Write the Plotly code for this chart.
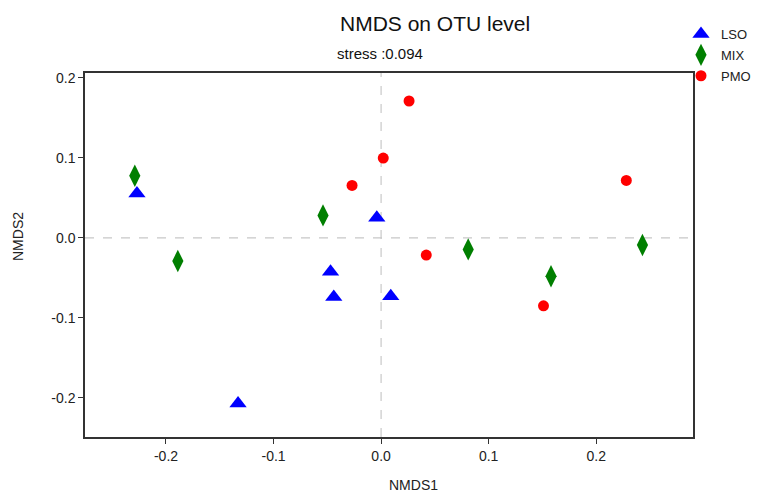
import plotly.graph_objects as go

groups = ["LSO", "MIX", "PMO"]
lso_x = [-0.227, -0.133, -0.047, -0.044, -0.004, 0.009]
lso_y = [0.0555, -0.207, -0.0425, -0.074, 0.025, -0.073]
mix_x = [-0.229, -0.189, -0.054, 0.081, 0.158, 0.243]
mix_y = [0.0775, -0.029, 0.028, -0.0145, -0.048, -0.009]
pmo_x = [0.026, 0.002, -0.027, 0.042, 0.151, 0.228]
pmo_y = [0.171, 0.0996, 0.0655, -0.0216, -0.085, 0.0717]
x_ticks = [-0.2, -0.1, 0.0, 0.1, 0.2]
y_ticks = [-0.2, -0.1, 0.0, 0.1, 0.2]
stress = 0.094

font = "Liberation Sans, Arial, sans-serif"
# page body has an 8px default margin; figure is sized/offset to compensate
OFF = 8
W, H = 770 - OFF, 492 - OFF
ML, MT = 85 - OFF, 73 - OFF
MR = W - (693 - OFF)
MB = H - (437 - OFF)
pw, ph = W - ML - MR, H - MT - MB

def px(x):
    return (x - OFF - ML) / pw

def py(y):
    return (H - MB - (y - OFF)) / ph

fig = go.Figure()
styles = {
    "LSO": dict(symbol="triangle-up", color="#0000FF", size=15),
    "MIX": dict(symbol="diamond-tall", color="#007F00", size=16),
    "PMO": dict(symbol="circle", color="#FF0000", size=11),
}
for name, xs, ys in [("LSO", lso_x, lso_y), ("MIX", mix_x, mix_y), ("PMO", pmo_x, pmo_y)]:
    s = styles[name]
    fig.add_trace(go.Scatter(x=xs, y=ys, mode="markers", name=name, legendgroup=name,
                             marker=dict(symbol=s["symbol"], color=s["color"], size=s["size"],
                                         line=dict(width=0))))

fig.add_shape(type="line", xref="x", yref="paper", x0=0, x1=0, y0=0, y1=1,
              line=dict(color="#C8C8C8", width=1.2, dash="dash"), layer="below")
fig.add_shape(type="line", xref="paper", yref="y", x0=0, x1=1, y0=0, y1=0,
              line=dict(color="#C8C8C8", width=1.2, dash="dash"), layer="below")

axis_common = dict(showgrid=False, zeroline=False, showline=True, mirror=True,
                   linecolor="#333333", linewidth=1.5, ticks="outside", ticklen=5,
                   tickcolor="#333333", tickfont=dict(size=14, color="#222222"))

fig.update_layout(
    width=W, height=H,
    margin=dict(l=ML, r=MR, t=MT, b=MB, autoexpand=False),
    paper_bgcolor="white", plot_bgcolor="white",
    font=dict(family=font, color="#222222", size=13),
    showlegend=True,
    legend=dict(x=px(681), y=py(19), xanchor="left", yanchor="top",
                font=dict(size=13, color="#222222"), itemwidth=30,
                tracegroupgap=1, bgcolor="rgba(0,0,0,0)"),
    xaxis=dict(range=[-0.2753, 0.290], tickvals=x_ticks,
               ticktext=[f"{v:.1f}" for v in x_ticks], **axis_common),
    yaxis=dict(range=[-0.249, 0.206], tickvals=y_ticks,
               ticktext=[f"{v:.1f}" for v in y_ticks], **axis_common),
    annotations=[
        dict(text="NMDS on OTU level", x=px(435), y=py(23), xref="paper", yref="paper",
             xanchor="center", yanchor="middle",
             showarrow=False, font=dict(size=21, color="#111111")),
        dict(text=f"stress :{stress}", x=px(380), y=py(54), xref="paper", yref="paper",
             xanchor="center", yanchor="middle",
             showarrow=False, font=dict(size=15, color="#111111")),
        dict(text="NMDS1", x=px(414), y=py(485), xref="paper", yref="paper",
             xanchor="center", yanchor="middle",
             showarrow=False, font=dict(size=14, color="#222222")),
        dict(text="NMDS2", x=px(18), y=py(237), xref="paper", yref="paper",
             xanchor="center", yanchor="middle",
             showarrow=False, textangle=-90, font=dict(size=14, color="#222222")),
    ],
)

fig.write_html("out.html")
